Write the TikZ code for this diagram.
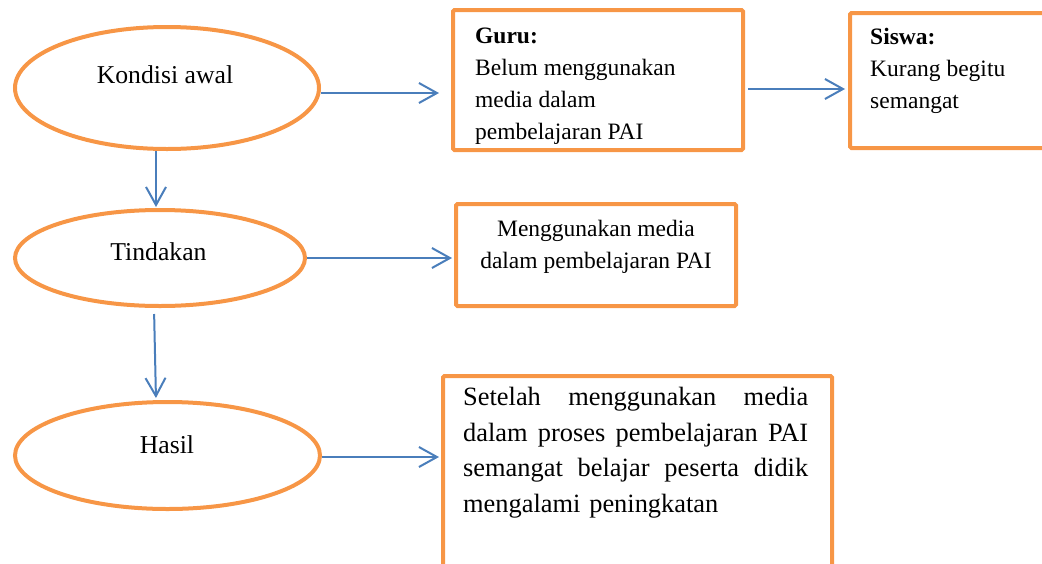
\documentclass[tikz,border=0pt]{standalone}
\usepackage{fontspec}
\setmainfont{Liberation Serif}
\usepackage{tikz}
\usetikzlibrary{shapes.geometric,arrows.meta,positioning,calc}
\definecolor{boxorange}{HTML}{F79646}
\definecolor{arrowblue}{HTML}{4A7EBB}

\begin{document}
\begin{tikzpicture}[
    x=1pt, y=-1pt,
    oval/.style={ellipse, draw=boxorange, line width=4pt, inner sep=0pt},
    box/.style={rectangle, draw=boxorange, line width=4pt, rounded corners=1.5pt, inner sep=0pt},
    ovaltext/.style={font=\fontsize{25.7}{30}\selectfont, anchor=base, inner sep=0pt},
    boxtext/.style={font=\fontsize{23.5}{32}\selectfont, align=left, anchor=north west, inner sep=0pt},
    arrow/.style={-{Straight Barb[length=18pt, width=20pt, line width=2pt]}, draw=arrowblue, line width=2pt}
]
\useasboundingbox (0,0) rectangle (1042,563);

% Left column
\node[oval, minimum width=304pt, minimum height=122pt] (kondisi) at (167,88) {};
\node[ovaltext] (kondisiText) at (165,83) {Kondisi awal};
\node[oval, minimum width=290pt, minimum height=96pt] (tindakan) at (160,258) {};
\node[ovaltext] (tindakanText) at (158.5,260) {Tindakan};
\node[oval, minimum width=305pt, minimum height=107pt] (hasil) at (167.5,455.5) {};
\node[ovaltext] (hasilText) at (167,453) {Hasil};

% Row 1
\node[box, minimum width=290pt, minimum height=140pt] (guru) at (598,80) {};
\node[boxtext] (guruText) at (475,27.5) {\textbf{Guru:}\\Belum menggunakan\\media dalam\\pembelajaran PAI};
\node[box, minimum width=220pt, minimum height=135pt, anchor=north west] (siswa) at (848,11) {};
\node[boxtext] (siswaText) at (870,27.5) {\textbf{Siswa:}\\Kurang begitu\\semangat};

% Row 2
\node[box, minimum width=280pt, minimum height=102pt] (media) at (596,255) {};
\node[boxtext, align=center, anchor=north] (mediaText) at (596,219.5) {Menggunakan media\\dalam pembelajaran PAI};

% Row 3
\node[box, minimum width=389pt, minimum height=210pt, anchor=north west] (hasilBox) at (441,374) {};
\node[anchor=north west, inner sep=0pt, text width=345pt, align=left, font=\fontsize{26.4}{35.6}\selectfont] (hasilBoxText) at (463,387)
    {\makebox[345pt]{Setelah\hfill menggunakan\hfill media}\\
     \makebox[345pt]{dalam\hfill proses\hfill pembelajaran\hfill PAI}\\
     \makebox[345pt]{semangat\hfill belajar\hfill peserta\hfill didik}\\
     mengalami peningkatan};

% Arrows
\draw[arrow, shorten >=12pt] ([yshift=-5pt]kondisi.east) -- ([yshift=-5pt]kondisi.east -| guru.west);
\draw[arrow, shorten <=3pt, shorten >=3pt] ([yshift=-9pt]guru.east) -- ([yshift=-9pt]guru.east -| siswa.west);
\draw[arrow, shorten >=1pt] ([xshift=-11pt]kondisi.south) -- ([xshift=-11pt]kondisi.south |- tindakan.north);
\draw[arrow, shorten >=2pt] (tindakan.east) -- (tindakan.east -| media.west);
\draw[arrow, shorten <=6pt, shorten >=2pt] ([xshift=-6pt]tindakan.south) -- ([xshift=-11.5pt]hasil.north);
\draw[arrow, shorten >=2pt] ([yshift=-1.5pt]hasil.east) -- ([yshift=-1.5pt]hasil.east -| hasilBox.west);

\end{tikzpicture}
\end{document}
